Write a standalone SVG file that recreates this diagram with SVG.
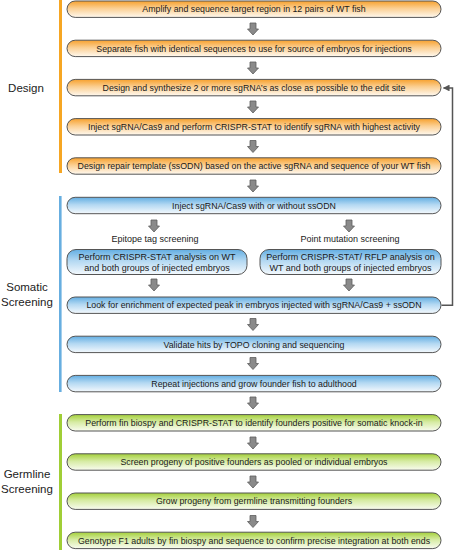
<svg xmlns="http://www.w3.org/2000/svg" width="456" height="550" viewBox="0 0 456 550">
<style>
text{font-family:"Liberation Sans",Arial,sans-serif;fill:#1a1a1a}
.t{font-size:8.8px;text-anchor:middle}
.s{font-size:9px;text-anchor:middle}
.lab{font-size:11.5px;text-anchor:middle;fill:#222}
.bx{stroke:#555;stroke-width:1}
.o{fill:url(#gO)}
.b{fill:url(#gB)}
.g{fill:url(#gG)}
.ar{fill:#8a8a8a;stroke:#5e5e5e;stroke-width:0.8}
.fb{fill:none;stroke:#555;stroke-width:1.5}
</style>
<defs>
<linearGradient id="gO" x1="0" y1="0" x2="0" y2="1">
<stop offset="0" stop-color="#F7A12E"/><stop offset="0.45" stop-color="#FBCF92"/><stop offset="1" stop-color="#FFF9F0"/>
</linearGradient>
<linearGradient id="gB" x1="0" y1="0" x2="0" y2="1">
<stop offset="0" stop-color="#63AEE2"/><stop offset="0.45" stop-color="#B3D8F2"/><stop offset="1" stop-color="#F4F9FD"/>
</linearGradient>
<linearGradient id="gG" x1="0" y1="0" x2="0" y2="1">
<stop offset="0" stop-color="#A4D03A"/><stop offset="0.45" stop-color="#D6EBA3"/><stop offset="1" stop-color="#F9FCF0"/>
</linearGradient>
<path id="da" d="M-3,0 h6 v6 h2.5 l-5.5,6 l-5.5,-6 h2.5 z"/>
<marker id="ah" viewBox="0 0 10 10" refX="9" refY="5" markerWidth="4.5" markerHeight="4.5" orient="auto" markerUnits="strokeWidth">
<path d="M0,0 L10,5 L0,10 z" fill="#555"/>
</marker>
</defs>
<rect width="456" height="550" fill="#fff"/>

<g id="phases">
<rect x="59" y="0" width="3" height="173" fill="#F6A623"/>
<rect x="59" y="196" width="2.6" height="196" fill="#67AEE0"/>
<rect x="59" y="414" width="3" height="136" fill="#A0CE36"/>
<text class="lab" x="26" y="92">Design</text>
<text class="lab" x="27" y="291">Somatic</text>
<text class="lab" x="27" y="306">Screening</text>
<text class="lab" x="27" y="478">Germline</text>
<text class="lab" x="27" y="493">Screening</text>
</g>

<g id="connectors">
<use href="#da" class="ar" x="253" y="23"/>
<use href="#da" class="ar" x="253" y="62"/>
<use href="#da" class="ar" x="253" y="101"/>
<use href="#da" class="ar" x="253" y="140.5"/>
<use href="#da" class="ar" x="253" y="180"/>
<use href="#da" class="ar" x="154" y="220"/>
<use href="#da" class="ar" x="349" y="220"/>
<use href="#da" class="ar" x="154" y="279"/>
<use href="#da" class="ar" x="349" y="279"/>
<use href="#da" class="ar" x="253" y="318.5"/>
<use href="#da" class="ar" x="253" y="357.5"/>
<use href="#da" class="ar" x="253" y="397"/>
<use href="#da" class="ar" x="253" y="437"/>
<use href="#da" class="ar" x="253" y="476"/>
<use href="#da" class="ar" x="253" y="515.5"/>
<polyline class="fb" points="441.5,305.2 452.5,305.2 452.5,88 443.5,88" marker-end="url(#ah)"/>
</g>

<g id="n1"><rect class="bx o" x="67" y="1" width="374" height="16.4" rx="8.2"/><text class="t" x="254" y="12.4">Amplify and sequence target region in 12 pairs of WT fish</text></g>
<g id="n2"><rect class="bx o" x="67" y="40.2" width="374" height="16.4" rx="8.2"/><text class="t" x="254" y="51.6">Separate fish with identical sequences to use for source of embryos for injections</text></g>
<g id="n3"><rect class="bx o" x="67" y="79.4" width="374" height="16.4" rx="8.2"/><text class="t" x="254" y="90.8">Design and synthesize 2 or more sgRNA’s as close as possible to the edit site</text></g>
<g id="n4"><rect class="bx o" x="67" y="118.6" width="374" height="16.4" rx="8.2"/><text class="t" x="254" y="130">Inject sgRNA/Cas9 and perform CRISPR-STAT to identify sgRNA with highest activity</text></g>
<g id="n5"><rect class="bx o" x="67" y="157.8" width="374" height="16.4" rx="8.2"/><text class="t" x="254" y="169.2">Design repair template (ssODN) based on the active sgRNA and sequence of your WT fish</text></g>

<g id="n6"><rect class="bx b" x="67" y="197.3" width="374" height="16.4" rx="8.2"/><text class="t" x="254" y="208.7">Inject sgRNA/Cas9 with or without ssODN</text></g>
<g id="n7"><text class="s" x="155" y="242">Epitope tag screening</text><rect class="bx b" x="67" y="249.5" width="180" height="25" rx="9"/><text class="s" x="157" y="259.7">Perform CRISPR-STAT analysis on WT</text><text class="s" x="157" y="270.7">and both groups of injected embryos</text></g>
<g id="n8"><text class="s" x="350" y="242">Point mutation screening</text><rect class="bx b" x="260" y="249.5" width="181" height="25" rx="9"/><text class="s" x="350.5" y="259.7">Perform CRISPR-STAT/ RFLP analysis on</text><text class="s" x="350.5" y="270.7">WT and both groups of injected embryos</text></g>
<g id="n9"><rect class="bx b" x="67" y="297" width="374" height="16.4" rx="8.2"/><text class="t" x="254" y="308.4">Look for enrichment of expected peak in embryos injected with sgRNA/Cas9 + ssODN</text></g>
<g id="n10"><rect class="bx b" x="67" y="336.2" width="374" height="16.4" rx="8.2"/><text class="t" x="254" y="347.6">Validate hits by TOPO cloning and sequencing</text></g>
<g id="n11"><rect class="bx b" x="67" y="375.4" width="374" height="16.4" rx="8.2"/><text class="t" x="254" y="386.8">Repeat injections and grow founder fish to adulthood</text></g>

<g id="n12"><rect class="bx g" x="67" y="414.6" width="374" height="16.4" rx="8.2"/><text class="t" x="254" y="426">Perform fin biospy and CRISPR-STAT to identify founders positive for somatic knock-in</text></g>
<g id="n13"><rect class="bx g" x="67" y="453.8" width="374" height="16.4" rx="8.2"/><text class="t" x="254" y="465.2">Screen progeny of positive founders as pooled or individual embryos</text></g>
<g id="n14"><rect class="bx g" x="67" y="493" width="374" height="16.4" rx="8.2"/><text class="t" x="254" y="504.4">Grow progeny from germline transmitting founders</text></g>
<g id="n15"><rect class="bx g" x="67" y="532.2" width="374" height="16.4" rx="8.2"/><text class="t" x="254" y="543.6">Genotype F1 adults by fin biospy and sequence to confirm precise integration at both ends</text></g>
</svg>
